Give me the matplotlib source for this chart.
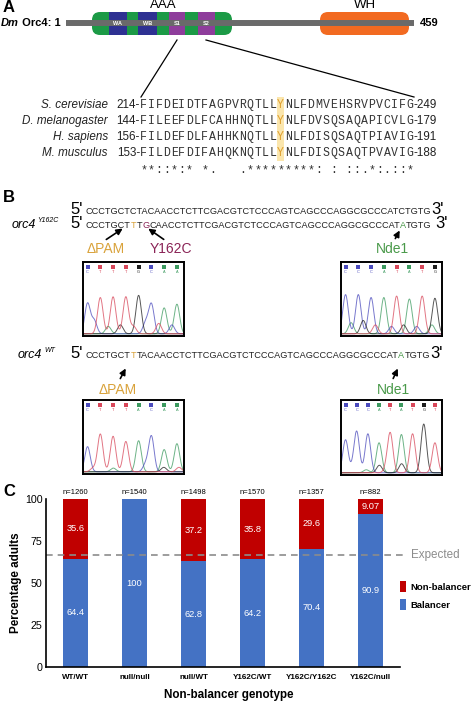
import numpy as np
import matplotlib
matplotlib.use("Agg")
import matplotlib.pyplot as plt
from matplotlib.patches import FancyBboxPatch, Rectangle

plt.rcParams['font.family'] = ['Liberation Sans', 'DejaVu Sans']

# ---- panel C data ----
genotypes = ['WT/WT', 'null/null', 'null/WT', 'Y162C/WT', 'Y162C/Y162C', 'Y162C/null']
balancer = [64.4, 100, 62.8, 64.2, 70.4, 90.9]
non_balancer = [35.6, 0, 37.2, 35.8, 29.6, 9.07]
n_counts = [1260, 1540, 1498, 1570, 1357, 882]
expected = 66.7

# ---- panel A alignment ----
species = ['S. cerevisiae', 'D. melanogaster', 'H. sapiens', 'M. musculus']
starts = [214, 144, 156, 153]
ends = [249, 179, 191, 188]
seqs = ['FIFDEIDTFAGPVRQTLLYNLFDMVEHSRVPVCIFG',
        'FILEEFDLFCAHHNQTLLYNLFDVSQSAQAPICVLG',
        'FILDEFDLFAHHKNQTLLYNLFDISQSAQTPIAVIG',
        'FILDEFDIFAHQKNQTLLYNLFDISQSAQTPVAVIG']
consensus = '**::*:* *.   .*********: : ::.*:.::*'

# ---- panel B DNA ----
dna_wt = 'CCCTGCTCTACAACCTCTTCGACGTCTCCCAGTCAGCCCAGGCGCCCATCTGTG'
dna_y162c = 'CCCTGCTTTGCAACCTCTTCGACGTCTCCCAGTCAGCCCAGGCGCCCATATGTG'
dna_orc4wt = 'CCCTGCTTTACAACCTCTTCGACGTCTCCCAGTCAGCCCAGGCGCCCATATGTG'

# chromatogram traces: called bases, main peak heights, minor peaks (base, pos, height)
chrom1_bases = 'CTTTGCAA'
chrom1_heights = [0.41, 0.49, 0.50, 0.50, 0.52, 0.40, 0.35, 0.40]
chrom1_minor = [('C', 0.11, 0.18), ('A', 0.25, 0.10), ('G', 0.37, 0.12), ('T', 0.50, 0.10),
                ('C', 0.62, 0.15), ('T', 0.75, 0.14), ('C', 0.88, 0.12)]
chrom2_bases = 'CCCATATG'
chrom2_heights = [0.53, 0.53, 0.49, 0.49, 0.51, 0.47, 0.51, 0.48]
chrom2_minor = [('A', 0.10, 0.15), ('G', 0.22, 0.18), ('T', 0.34, 0.12), ('C', 0.50, 0.10),
                ('G', 0.62, 0.12), ('C', 0.75, 0.10), ('A', 0.90, 0.12)]
chrom3_bases = 'CTTTACAA'
chrom3_heights = [0.34, 0.51, 0.48, 0.41, 0.42, 0.48, 0.30, 0.38]
chrom3_minor = [('T', 0.10, 0.05), ('A', 0.30, 0.05), ('C', 0.62, 0.10), ('G', 0.80, 0.06),
                ('T', 0.95, 0.06)]
chrom4_bases = 'CCCATATGT'
chrom4_heights = [0.44, 0.54, 0.52, 0.40, 0.52, 0.51, 0.52, 0.65, 0.40]
chrom4_minor = [('C', 0.12, 0.04), ('A', 0.25, 0.04), ('G', 0.38, 0.10), ('T', 0.45, 0.05),
                ('G', 0.60, 0.12)]

base_col = {'A': '#3c9a5f', 'C': '#4b4bbd', 'G': '#1e1e1e', 'T': '#d8475a'}
PAM = '#d9a23a'
MUT = '#8a2356'
NDE = '#4a9a4a'

W, H = 474, 702
fig = plt.figure(figsize=(W / 100, H / 100), dpi=100)
ov = fig.add_axes([0, 0, 1, 1])
ov.set_xlim(0, W)
ov.set_ylim(H, 0)
ov.axis('off')
renderer = fig.canvas.get_renderer()


def segments(x, y, segs, fs, **kw):
    """write (text, color) pieces one after another"""
    for s, c in segs:
        t = ov.text(x, y, s, fontsize=fs, color=c, va='center', ha='left', **kw)
        x += t.get_window_extent(renderer).width
    return x


# ================= A =================
ov.text(3, 8, 'A', fontsize=12, fontweight='bold', va='center')
ov.text(163, 5, 'AAA', fontsize=9.5, ha='center', va='center')
ov.text(365, 5, 'WH', fontsize=9.5, ha='center', va='center')
t = ov.text(1, 23, 'Dm', fontsize=8, fontweight='bold', style='italic', va='center')
ov.text(1 + t.get_window_extent(renderer).width, 23, ' Orc4: 1', fontsize=8,
        fontweight='bold', va='center')
ov.plot([66, 414], [23, 23], color='#6a6a6a', lw=4.3, solid_capstyle='butt')
ov.add_patch(FancyBboxPatch((92, 12), 140, 23, boxstyle='round,pad=0,rounding_size=8',
                            fc='#1c9a46', ec='none'))
for x0, x1, c, lab in [(109, 127, '#2e3192', 'WA'), (138, 157, '#2e3192', 'WB'),
                       (169, 185, '#8e3d9b', 'S1'), (198, 215, '#8e3d9b', 'S2')]:
    ov.add_patch(Rectangle((x0, 12), x1 - x0, 23, fc=c, ec='none'))
    ov.text((x0 + x1) / 2, 23.5, lab, fontsize=4, color='white', fontweight='bold',
            ha='center', va='center')
ov.add_patch(FancyBboxPatch((320, 12), 89, 23, boxstyle='round,pad=0,rounding_size=8',
                            fc='#f26a21', ec='none'))
ov.text(420, 23, '459', fontsize=8, fontweight='bold', va='center')
ov.plot([177, 141], [40, 97], color='black', lw=0.9)
ov.plot([206, 414], [40, 97], color='black', lw=0.9)

cw = 7.6
sx = 140
rows_y = [105, 121, 137, 153]
ov.add_patch(Rectangle((sx + 18 * cw, 97), cw, 64, fc='#fbe6ad', ec='none'))
for sp, st, en, sq, y in zip(species, starts, ends, seqs, rows_y):
    ov.text(108, y, sp, fontsize=8.4, style='italic', ha='right', va='center', color='#222')
    ov.text(sx, y, f'{st}-', fontsize=8.4, ha='right', va='center', color='#222')
    for i, ch in enumerate(sq):
        ov.text(sx + (i + 0.5) * cw, y, ch, fontsize=8.3, family='Liberation Mono',
                ha='center', va='center', color='#e0a030' if i == 18 else '#333')
    ov.text(sx + len(sq) * cw, y, f'-{en}', fontsize=8.4, ha='left', va='center', color='#222')
for i, ch in enumerate(consensus):
    ov.text(sx + (i + 0.5) * cw, 170, ch, fontsize=8.3, family='Liberation Mono',
            ha='center', va='center', color='#333')

# ================= B =================
ov.text(3, 197, 'B', fontsize=12, fontweight='bold', va='center')

probe = ov.text(0, 0, dna_wt, fontsize=10)
seq_fs = 10 * 344 / probe.get_window_extent(renderer).width
probe.remove()


def dna_row(y, seq, marks, prime_gap=0):
    ov.text(70, y - 1, "5'", fontsize=12, va='center')
    segs = []
    for i, ch in enumerate(seq):
        c = marks.get(i, '#222')
        if segs and segs[-1][1] == c:
            segs[-1] = (segs[-1][0] + ch, c)
        else:
            segs.append((ch, c))
    xe = segments(86, y, segs, seq_fs)
    ov.text(xe + prime_gap, y - 1, "3'", fontsize=12, va='center')


dna_row(211, dna_wt, {})
dna_row(225, dna_y162c, {7: PAM, 9: MUT, 49: NDE}, prime_gap=4)
ov.text(12, 225, 'orc4', fontsize=9, style='italic', va='center')
ov.text(37, 221, 'Y162C', fontsize=5, style='italic', va='center')

arrow = dict(arrowstyle='-|>', color='black', lw=1.2, mutation_scale=9)
ov.annotate('', xy=(125, 227), xytext=(104, 241), arrowprops=arrow)
ov.annotate('', xy=(146, 227), xytext=(166, 241), arrowprops=arrow)
ov.annotate('', xy=(401, 228), xytext=(394, 241), arrowprops=arrow)
ov.text(106, 249, '\u0394PAM', fontsize=10, color=PAM, ha='center', va='center')
ov.text(171, 249, 'Y162C', fontsize=10, color=MUT, ha='center', va='center')
ov.text(392, 249, 'Nde1', fontsize=10, color=NDE, ha='center', va='center')

dna_row(355, dna_orc4wt, {7: PAM, 49: NDE})
ov.text(18, 355, 'orc4', fontsize=9, style='italic', va='center')
ov.text(44, 351, 'WT', fontsize=5, style='italic', va='center')
ov.annotate('', xy=(127, 366), xytext=(119, 381), arrowprops=arrow)
ov.annotate('', xy=(399, 366), xytext=(392, 381), arrowprops=arrow)
ov.text(118, 390, '\u0394PAM', fontsize=10, color=PAM, ha='center', va='center')
ov.text(393, 390, 'Nde1', fontsize=10, color=NDE, ha='center', va='center')


def chromatogram(box, bases, heights, minor):
    x0, y0, x1, y1 = box
    cax = fig.add_axes([x0 / W, 1 - y1 / H, (x1 - x0) / W, (y1 - y0) / H])
    cax.set_xlim(0, 1)
    cax.set_ylim(0, 1)
    cax.set_xticks([])
    cax.set_yticks([])
    for s in cax.spines.values():
        s.set_linewidth(1.4)
    pos = np.linspace(0.045, 0.93, len(bases))
    xs = np.linspace(0, 1, 300)
    peaks = [(b, p, h) for b, p, h in zip(bases, pos, heights)] + list(minor)
    for b in 'ACGT':
        curve = np.full_like(xs, 0.03)
        for pb, p, h in peaks:
            if pb == b:
                curve += h * np.exp(-0.5 * ((xs - p) / 0.027) ** 2)
        cax.plot(xs, curve, color=base_col[b], lw=0.7, alpha=0.75)
    for b, p in zip(bases, pos):
        cax.scatter([p], [0.93], marker='s', s=5, color=base_col[b], lw=0)
        cax.text(p, 0.86, b, fontsize=2.8, color=base_col[b], ha='center', va='center')


chromatogram((83, 262, 184, 336), chrom1_bases, chrom1_heights, chrom1_minor)
chromatogram((341, 262, 442, 336), chrom2_bases, chrom2_heights, chrom2_minor)
chromatogram((83, 400, 184, 474), chrom3_bases, chrom3_heights, chrom3_minor)
chromatogram((341, 400, 442, 475), chrom4_bases, chrom4_heights, chrom4_minor)

# ================= C =================
ov.text(3, 492, 'C', fontsize=12, fontweight='bold', va='center')
ax = fig.add_axes([46 / W, (H - 667) / H, 354 / W, 168 / H])
x = np.arange(len(genotypes))
ax.bar(x, balancer, width=0.41, color='#4472c4')
ax.bar(x, non_balancer, bottom=balancer, width=0.41, color='#c00000')
ax.set_xlim(-0.5, 5.5)
ax.set_ylim(0, 100)
ax.set_yticks([0, 25, 50, 75, 100])
ax.tick_params(axis='y', length=0, pad=2.5, labelsize=7.7)
ax.set_xticks(x, genotypes, fontsize=5.8, fontweight='bold')
ax.tick_params(axis='x', length=0, pad=5)
for s in ['top', 'right']:
    ax.spines[s].set_visible(False)
for s in ['left', 'bottom']:
    ax.spines[s].set_linewidth(1.2)

for i, (b, nb, n) in enumerate(zip(balancer, non_balancer, n_counts)):
    if b > 0:
        ax.text(i, b / 2, f'{b:g}', color='white', fontsize=6.7, ha='center', va='center')
    if nb > 0:
        ax.text(i, b + nb / 2, f'{nb:g}', color='white', fontsize=6.7, ha='center', va='center')
    ax.text(i, 101.5, f'n={n}', fontsize=5.5, ha='center', va='bottom')

ax.plot([-0.5, 5.62], [expected, expected], color='#8c8c8c', lw=1.2, ls=(0, (4, 3)),
        clip_on=False)
ax.text(5.68, expected, 'Expected', color='#8c8c8c', fontsize=8.4, va='center')

ov.add_patch(Rectangle((395, 581), 11, 11, fc='#c00000', ec='none'))
ov.add_patch(Rectangle((395, 599), 11, 11, fc='#4472c4', ec='none'))
ov.text(410, 587, 'Non-balancer', fontsize=6.8, fontweight='bold', va='center')
ov.text(410, 605, 'Balancer', fontsize=6.8, fontweight='bold', va='center')
ov.text(16, 583, 'Percentage adults', fontsize=8.4, fontweight='bold', rotation=90,
        ha='center', va='center')
ov.text(229, 695, 'Non-balancer genotype', fontsize=8.4, fontweight='bold',
        ha='center', va='center')

fig.savefig('out.png', dpi=100)
